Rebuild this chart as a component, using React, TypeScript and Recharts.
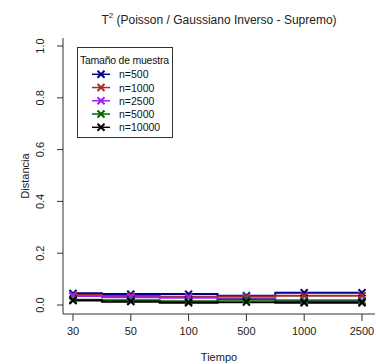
import React from "react";
import { LineChart, Line, XAxis, YAxis, Legend } from "recharts";

const tiempos = ["30", "50", "100", "500", "1000", "2500"];
const n500 = [0.045, 0.042, 0.042, 0.036, 0.047, 0.047];
const n1000 = [0.039, 0.035, 0.032, 0.033, 0.036, 0.036];
const n2500 = [0.035, 0.03, 0.028, 0.025, 0.018, 0.018];
const n5000 = [0.02, 0.018, 0.014, 0.02, 0.014, 0.014];
const n10000 = [0.017, 0.013, 0.009, 0.011, 0.009, 0.009];
const yTicks = [0, 0.2, 0.4, 0.6, 0.8, 1];

const series = [
  { key: "n500", name: "n=500", color: "#00008B", values: n500 },
  { key: "n1000", name: "n=1000", color: "#A52A2A", values: n1000 },
  { key: "n2500", name: "n=2500", color: "#A020F0", values: n2500 },
  { key: "n5000", name: "n=5000", color: "#006400", values: n5000 },
  { key: "n10000", name: "n=10000", color: "#000000", values: n10000 },
];

const data = tiempos.map((t, i) => {
  const row: any = { t };
  series.forEach((s) => (row[s.key] = s.values[i]));
  return row;
});

const FONT = "'Liberation Sans', Arial, sans-serif";

// cruz tipo pch=4
function Cross(props: any) {
  const { cx, cy, stroke } = props;
  if (cx == null || cy == null) return null;
  const r = 3.5;
  return (
    <path
      d={`M${cx - r},${cy - r}L${cx + r},${cy + r}M${cx - r},${cy + r}L${cx + r},${cy - r}`}
      stroke={stroke}
      strokeWidth={2}
      fill="none"
    />
  );
}

function YTick(props: any) {
  const { x, y, payload } = props;
  return (
    <text
      x={x}
      y={y}
      transform={`rotate(-90, ${x}, ${y})`}
      textAnchor="middle"
      dominantBaseline="central"
      fontSize={11}
      fontFamily={FONT}
      fill="#222"
    >
      {payload.value.toFixed(1)}
    </text>
  );
}

// orden igual que en la serie, no alfabético
function LegendBox(props: any) {
  const names = series.map((s) => s.name);
  const items = (props.payload || [])
    .filter((p: any) => p.value)
    .slice()
    .sort((a: any, b: any) => names.indexOf(a.value) - names.indexOf(b.value));
  return (
    <svg width={96} height={91} style={{ display: "block" }}>
      <rect x={0.5} y={0.5} width={95} height={90} fill="#fff" stroke="#333" />
      <text x={3} y={16.5} fontSize={10.5} fontFamily={FONT} fill="#111" textLength={89}>
        Tamaño de muestra
      </text>
      {items.map((it: any, i: number) => {
        const y = 27.3 + i * 13.25;
        return (
          <g key={it.value}>
            <line x1={15} x2={33} y1={y} y2={y} stroke={it.color} strokeWidth={1.5} />
            <Cross cx={24} cy={y} stroke={it.color} />
            <text x={42} y={y} dominantBaseline="central" fontSize={10.5} fontFamily={FONT} fill="#111">
              {it.value}
            </text>
          </g>
        );
      })}
    </svg>
  );
}

export default function App() {
  return (
    <div style={{ position: "absolute", left: 0, top: 0, width: 376, height: 364, background: "#fff" }}>
      <div
        style={{
          position: "absolute",
          left: 63,
          width: 312,
          top: 8,
          textAlign: "center",
          fontSize: 12,
          fontFamily: FONT,
          color: "#222",
          lineHeight: "16px",
        }}
      >
        T<sup style={{ fontSize: 8, verticalAlign: "6px" }}>2</sup> (Poisson / Gaussiano Inverso - Supremo)
      </div>
      <LineChart
        width={376}
        height={364}
        data={data}
        margin={{ top: 38, right: 1, bottom: 0, left: 0 }}
      >
        <XAxis
          dataKey="t"
          type="category"
          padding={{ left: 10, right: 13 }}
          height={50}
          stroke="#333"
          tickSize={7}
          tickMargin={6}
          tick={{ fill: "#222", fontSize: 11, fontFamily: FONT }}
          label={{ value: "Tiempo", position: "insideBottom", offset: 3, fill: "#222", fontSize: 11, fontFamily: FONT }}
        />
        <XAxis xAxisId="top" dataKey="t" orientation="top" height={0} tick={false} tickLine={false} stroke="#333" />
        <YAxis
          domain={[0, 1]}
          ticks={yTicks}
          padding={{ top: 8, bottom: 9 }}
          width={63}
          stroke="#333"
          tickSize={6}
          tickMargin={17}
          tick={<YTick />}
          label={{
            content: (p: any) => {
              const vb = p.viewBox;
              const cx = vb.x + 25;
              const cy = vb.y + vb.height / 2;
              return (
                <text
                  x={cx}
                  y={cy}
                  transform={`rotate(-90, ${cx}, ${cy})`}
                  textAnchor="middle"
                  dominantBaseline="central"
                  fontSize={11}
                  fontFamily={FONT}
                  fill="#222"
                >
                  Distancia
                </text>
              );
            },
          }}
        />
        <YAxis yAxisId="right" orientation="right" width={0} domain={[0, 1]} tick={false} tickLine={false} stroke="#333" />
        <Legend
          layout="vertical"
          align="center"
          verticalAlign="middle"
          content={<LegendBox />}
          wrapperStyle={{ position: "absolute", left: 77, top: 47, width: 96, height: 91 }}
        />
        {series.map((s) => (
          <Line
            key={s.key}
            dataKey={s.key}
            name={s.name}
            type="step"
            stroke={s.color}
            strokeWidth={2}
            dot={<Cross stroke={s.color} />}
            activeDot={false}
            isAnimationActive={false}
          />
        ))}
      </LineChart>
    </div>
  );
}
